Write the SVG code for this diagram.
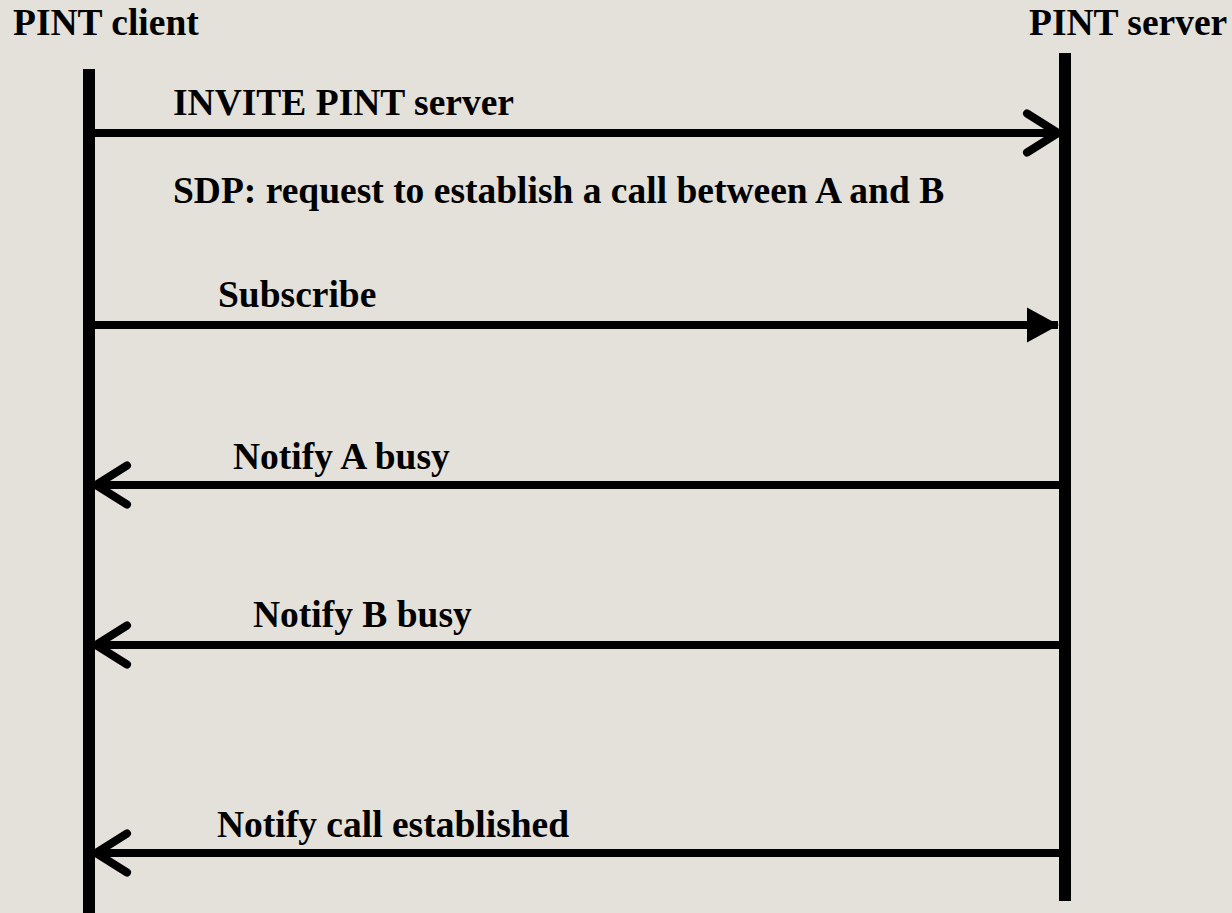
<svg xmlns="http://www.w3.org/2000/svg" width="1232" height="913" viewBox="0 0 1232 913">
  <style>
    .title, .label { font-family: "Liberation Serif", "Times New Roman", serif; font-weight: bold; font-size: 37.5px; fill: #000; }
    .lifeline { fill: #000; }
    .msg { stroke: #000; stroke-width: 8; fill: none; }
    .open { marker-end: url(#openHead); }
    .solid { marker-end: url(#solidHead); }
  </style>
  <defs>
    <marker id="openHead" markerUnits="userSpaceOnUse" orient="auto" viewBox="-40 -30 50 60" refX="0" refY="0" markerWidth="50" markerHeight="60">
      <path d="M -31 -19.5 L 0 0 L -31 19.5" fill="none" stroke="#000" stroke-width="8" stroke-linecap="round" stroke-linejoin="round"/>
    </marker>
    <marker id="solidHead" markerUnits="userSpaceOnUse" orient="auto" viewBox="-40 -30 50 60" refX="0" refY="0" markerWidth="50" markerHeight="60">
      <path d="M -31 -17.5 L 1 0 L -31 17.5 Z" fill="#000"/>
    </marker>
  </defs>

  <rect width="1232" height="913" fill="#e4e1da"/>

  <g id="pint-client">
    <text class="title" x="13" y="35">PINT client</text>
    <rect class="lifeline" x="83" y="69" width="12" height="844"/>
  </g>

  <g id="pint-server">
    <text class="title" x="1029" y="35">PINT server</text>
    <rect class="lifeline" x="1059" y="53" width="12" height="848"/>
  </g>

  <g id="connectors">
    <path class="msg open" d="M 95 133 H 1058"/>
    <path class="msg solid" d="M 95 325 H 1058"/>
    <path class="msg open" d="M 1059 485 H 96"/>
    <path class="msg open" d="M 1059 645 H 96"/>
    <path class="msg open" d="M 1059 853 H 96"/>
  </g>

  <g id="labels">
    <text class="label" x="173" y="115">INVITE PINT server</text>
    <text class="label" x="173" y="203">SDP: request to establish a call between A and B</text>
    <text class="label" x="218" y="307">Subscribe</text>
    <text class="label" x="233" y="469">Notify A busy</text>
    <text class="label" x="253" y="627">Notify B busy</text>
    <text class="label" x="217" y="837">Notify call established</text>
  </g>
</svg>
